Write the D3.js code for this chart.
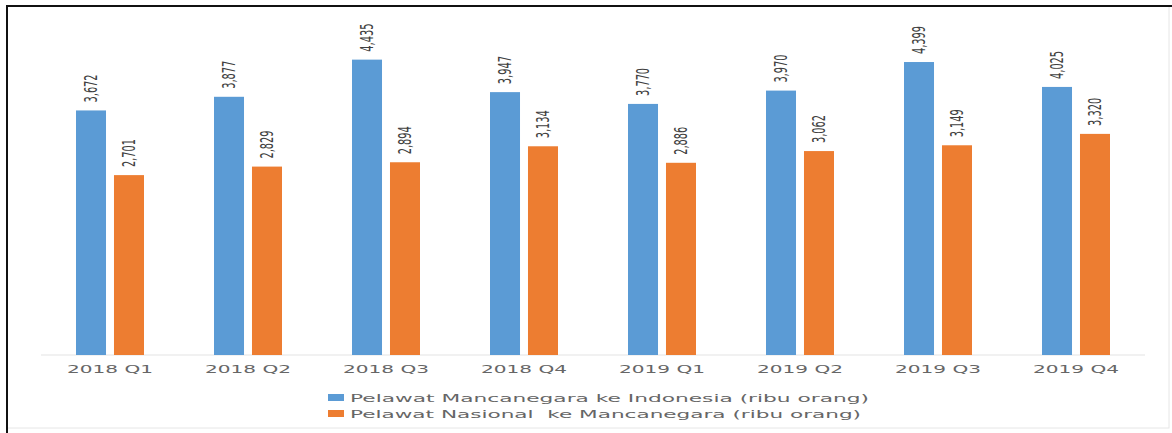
<!DOCTYPE html>
<html>
<head>
<meta charset="utf-8">
<script src="https://cdn.jsdelivr.net/npm/d3@7"></script>
<style>
  body { margin: 0; background: #fff; }
  svg { display: block; }
</style>
</head>
<body>
<svg width="1172" height="433"></svg>
<script>
// quarters
var categories = ["2018 Q1", "2018 Q2", "2018 Q3", "2018 Q4", "2019 Q1", "2019 Q2", "2019 Q3", "2019 Q4"]
var seriesNames = ["Pelawat Mancanegara ke Indonesia (ribu orang)", "Pelawat Nasional  ke Mancanegara (ribu orang)"]
var inbound = [3672, 3877, 4435, 3947, 3770, 3970, 4399, 4025]
var outbound = [2701, 2829, 2894, 3134, 2886, 3062, 3149, 3320]
var colors = ["#5b9bd5", "#ed7d31"]

var svg = d3.select("svg")

// frame: dark top/left edge, faint right/bottom
svg.append("rect").attr("x", 7).attr("y", 6).attr("width", 1162).attr("height", 422)
  .attr("fill", "#fff").attr("stroke", "#e6e6e6")
svg.append("line").attr("x1", 6).attr("x2", 1172).attr("y1", 6).attr("y2", 6)
  .attr("stroke", "#111").attr("stroke-width", 2)
svg.append("line").attr("x1", 7).attr("x2", 7).attr("y1", 5).attr("y2", 433)
  .attr("stroke", "#111").attr("stroke-width", 2)

var x = d3.scaleBand().domain(categories).range([41, 1145])
var x1 = d3.scaleBand().domain([0, 1]).range([35, 103]).paddingInner(0.21)
var y = d3.scaleLinear().domain([0, 5000]).range([355, 22])

var rows = []
categories.forEach((c, i) => {
  rows.push({cat: c, s: 0, v: inbound[i]})
  rows.push({cat: c, s: 1, v: outbound[i]})
})

// baseline
svg.append("line")
  .attr("x1", x.range()[0]).attr("x2", x.range()[1])
  .attr("y1", y(0)).attr("y2", y(0))
  .attr("stroke", "#e3e3e3")

svg.append("g").selectAll("rect")
  .data(rows)
  .enter()
  .append("rect")
  .attr("x", d => x(d.cat) + x1(d.s))
  .attr("width", x1.bandwidth())
  .attr("y", d => y(d.v))
  .attr("height", d => y(0) - y(d.v))
  .attr("fill", d => colors[d.s])

// rotated value labels
svg.append("g").selectAll("text")
  .data(rows)
  .enter()
  .append("text")
  .attr("transform", d => "translate(" + (x(d.cat) + x1(d.s) + x1.bandwidth() / 2) + "," + (y(d.v) - 8) + ") rotate(-90)")
  .attr("dy", "0.35em")
  .attr("text-anchor", "start")
  .attr("textLength", 28)
  .attr("lengthAdjust", "spacingAndGlyphs")
  .style("font-family", "'Liberation Sans Narrow', 'DejaVu Sans Condensed', sans-serif")
  .style("font-size", "17px")
  .style("fill", "#404040")
  .text(d => d3.format(",")(d.v))

// category axis labels
svg.append("g").selectAll("text")
  .data(categories)
  .enter()
  .append("text")
  .attr("x", d => x(d) + x.bandwidth() / 2)
  .attr("y", 373)
  .attr("text-anchor", "middle")
  .attr("textLength", 86)
  .attr("lengthAdjust", "spacingAndGlyphs")
  .style("font-family", "'DejaVu Sans', sans-serif")
  .style("font-size", "11px")
  .style("fill", "#666")
  .text(d => d)

// legend
var legend = svg.append("g").selectAll("g")
  .data(seriesNames)
  .enter()
  .append("g")
  .attr("transform", (d, i) => "translate(328," + (398 + i * 16) + ")")

legend.append("rect")
  .attr("x", 0).attr("y", -4)
  .attr("width", 16).attr("height", 7)
  .attr("fill", (d, i) => colors[i])

legend.append("text")
  .attr("x", 22)
  .attr("dy", "0.35em")
  .attr("textLength", (d, i) => i == 0 ? 519 : 511)
  .attr("lengthAdjust", "spacingAndGlyphs")
  .style("white-space", "pre")
  .style("font-family", "'DejaVu Sans', sans-serif")
  .style("font-size", "11px")
  .style("fill", "#666")
  .text(d => d)
</script>
</body>
</html>
